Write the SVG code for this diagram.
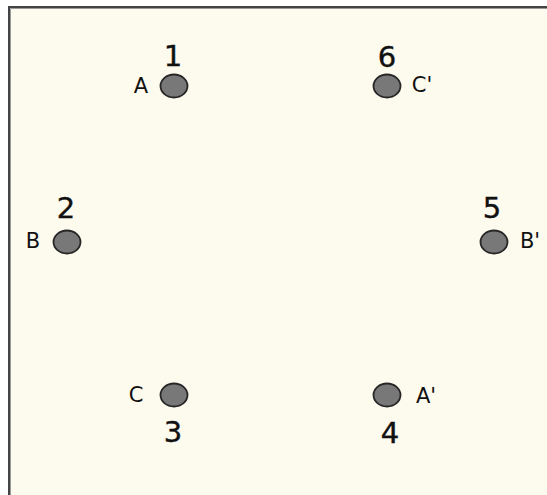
<svg xmlns="http://www.w3.org/2000/svg" width="547" height="495" viewBox="0 0 547 495">
<style>
.pin{fill:#787878;stroke:#262626;stroke-width:1.8}
.num{font-family:"DejaVu Sans",sans-serif;font-size:29px;fill:#111;text-anchor:middle;stroke:#111;stroke-width:0.4}
.ph{font-family:"DejaVu Sans",sans-serif;font-size:21px;fill:#111;text-anchor:middle}
</style>
<rect x="0" y="0" width="547" height="495" fill="#ffffff"/>
<rect x="9" y="7" width="560" height="520" fill="#fdfaee" stroke="#444" stroke-width="2"/>
<line x1="10.5" y1="8.5" x2="547" y2="8.5" stroke="#9a9a9a" stroke-width="1"/>
<line x1="10.5" y1="8.5" x2="10.5" y2="495" stroke="#9a9a9a" stroke-width="1"/>
<g id="connectors"></g>
<g id="node1">
<ellipse class="pin" cx="174" cy="86" rx="13.5" ry="11.5"/>
<text class="num" x="173" y="66">1</text>
<text class="ph" x="141" y="93">A</text>
</g>
<g id="node6">
<ellipse class="pin" cx="387" cy="86" rx="13.5" ry="11.5"/>
<text class="num" x="387" y="67">6</text>
<text class="ph" x="422" y="92">C'</text>
</g>
<g id="node2">
<ellipse class="pin" cx="67" cy="242" rx="13.5" ry="11.5"/>
<text class="num" x="66" y="218">2</text>
<text class="ph" x="33" y="248">B</text>
</g>
<g id="node5">
<ellipse class="pin" cx="494" cy="242" rx="13.5" ry="11.5"/>
<text class="num" x="492" y="218">5</text>
<text class="ph" x="530" y="248">B'</text>
</g>
<g id="node3">
<ellipse class="pin" cx="174" cy="395" rx="13.5" ry="11.5"/>
<text class="num" x="173" y="442">3</text>
<text class="ph" x="136" y="402">C</text>
</g>
<g id="node4">
<ellipse class="pin" cx="387" cy="395" rx="13.5" ry="11.5"/>
<text class="num" x="390" y="443">4</text>
<text class="ph" x="426" y="403">A'</text>
</g>
</svg>
